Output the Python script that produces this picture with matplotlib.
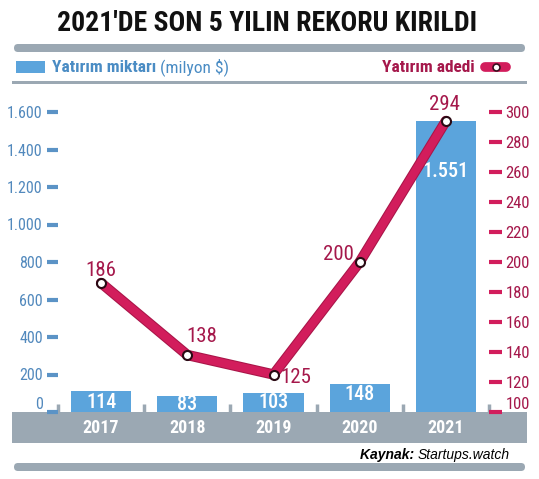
import matplotlib
matplotlib.use('Agg')
import matplotlib.pyplot as plt
import numpy as np
from matplotlib import font_manager
from matplotlib.patches import FancyBboxPatch, Rectangle

# Data
years = ['2017', '2018', '2019', '2020', '2021']
amount = [114, 83, 103, 148, 1551]          # Yatırım miktarı (milyon $)
amount_labels = ['114', '83', '103', '148', '1.551']
deals = [186, 138, 125, 200, 294]            # Yatırım adedi
left_ticks = [0, 200, 400, 600, 800, 1000, 1200, 1400, 1600]
left_tick_labels = ['0', '200', '400', '600', '800', '1.000', '1.200', '1.400', '1.600']
right_ticks = [100, 120, 140, 160, 180, 200, 220, 240, 260, 280, 300]

title = "2021'DE SON 5 YILIN REKORU KIRILDI"

# Colours
BLUE = '#5ba4dc'
BLUE_TXT = '#4a8cc4'
RED = '#d21d5c'
RED_DARK = '#a81548'
RED_TXT = '#a5184b'
GRAY = '#9ba8b3'

# pick a condensed font if one is there
names = {f.name for f in font_manager.fontManager.ttflist}
cond = next((n for n in ['Liberation Sans Narrow', 'DejaVu Sans Condensed', 'Roboto Condensed']
             if n in names), 'DejaVu Sans')
plt.rcParams['font.family'] = [cond, 'DejaVu Sans']
plt.rcParams['font.stretch'] = 'condensed'

fig = plt.figure(figsize=(5.39, 4.79), dpi=100)

# background layer in pixel coordinates for the frame pieces
bg = fig.add_axes([0, 0, 1, 1])
bg.set_xlim(0, 539)
bg.set_ylim(479, 0)
bg.axis('off')

bg.add_patch(FancyBboxPatch((14, 44), 511, 8, boxstyle='round,pad=0,rounding_size=4', fc=GRAY, ec='none'))
bg.add_patch(Rectangle((12, 80.5), 515, 3, fc=GRAY, ec='none'))
bg.add_patch(Rectangle((12, 412), 515, 31, fc=GRAY, ec='none'))
bg.add_patch(FancyBboxPatch((14, 463), 511, 8, boxstyle='round,pad=0,rounding_size=4', fc=GRAY, ec='none'))

bg.text(267, 23, title, ha='center', va='center', fontsize=20, fontweight='heavy', color='#111111')

# legend row
bg.add_patch(Rectangle((16, 61), 29, 12, fc=BLUE, ec='none'))
t1 = bg.text(52, 67, 'Yatırım miktarı', ha='left', va='center', fontsize=12.5,
             fontweight='bold', color=BLUE_TXT)
bg.annotate(' (milyon \\$)', xy=(1, 0.5), xycoords=t1, ha='left', va='center',
            fontsize=12.5, color=BLUE_TXT)
bg.text(475, 67, 'Yatırım adedi', ha='right', va='center', fontsize=12.5,
        fontweight='bold', color=RED_TXT)
bg.plot([485, 506], [67, 67], color=RED, lw=7, solid_capstyle='round')
bg.plot([495.5], [67], 'o', ms=5, mfc='white', mec='#3a1020', mew=1.2)

# source
t2 = bg.text(510, 455, 'Startups.watch', ha='right', va='center', fontsize=10,
             style='italic', family=['Liberation Sans', 'DejaVu Sans'], fontstretch='normal')
bg.annotate('Kaynak: ', xy=(0, 0.5), xycoords=t2, ha='right', va='center', fontsize=10,
            style='italic', fontweight='bold', family=['Liberation Sans', 'DejaVu Sans'],
            fontstretch='normal')

# main axes: bars
ax = fig.add_axes([58 / 539, 1 - 412 / 479, 431 / 539, 300 / 479])
ax.patch.set_alpha(0)
x = np.arange(len(years))
ax.bar(x, amount, width=0.70, color=BLUE, zorder=2)
ax.set_xlim(-0.5, 4.5)
ax.set_ylim(0, 1600)
ax.set_xticks([])
for s in ax.spines.values():
    s.set_visible(False)
ax.set_yticks(left_ticks, left_tick_labels)
ax.tick_params(axis='y', direction='out', length=8, width=3, color='#5b93c6',
               labelcolor='#5289bd', labelsize=11.5, pad=3)
ax.get_yticklabels()[0].set_verticalalignment('bottom')

ax.vlines(np.arange(-0.5, 5), 0, 42, color=GRAY, lw=2.5, clip_on=False, zorder=1)

bar_label_dy = [-2, 1, 0, -1, -41]
for i, (lab, v) in enumerate(zip(amount_labels, amount)):
    ax.annotate(lab, (i, v), xytext=(0, bar_label_dy[i]), textcoords='offset pixels',
                ha='center', va='top', color='white', fontsize=14.5,
                fontweight='medium', zorder=4)
for i, yr in enumerate(years):
    ax.annotate(yr, (i, 0), xytext=(0, -16), textcoords='offset pixels', ha='center',
                va='center', color='white', fontsize=13, fontweight='bold', annotation_clip=False)

# right axes: line
ax2 = ax.twinx()
ax2.set_ylim(100, 300)
for s in ax2.spines.values():
    s.set_visible(False)
ax2.set_yticks(right_ticks)
ax2.tick_params(axis='y', direction='out', length=9, width=3, color=RED,
                labelcolor=RED_TXT, labelsize=12, pad=3)
ax2.get_yticklabels()[0].set_verticalalignment('bottom')

ax2.plot(x, deals, color=RED_DARK, lw=7.5, solid_joinstyle='round', solid_capstyle='round', zorder=3)
ax2.plot(x, deals, color=RED, lw=6, solid_joinstyle='round', solid_capstyle='round', zorder=3)
ax2.plot(x, deals, 'o', ms=6.5, mfc='white', mec='#2a0a14', mew=1.5, zorder=4)

deal_offsets = [(0, 13), (15, 19), (22, -3), (-21, 8), (-1, 17)]
for i, v in enumerate(deals):
    ax2.annotate(str(v), (i, v), xytext=deal_offsets[i], textcoords='offset pixels',
                 ha='center', va='center', color=RED_TXT, fontsize=15)

fig.savefig('out.png', dpi=100)
